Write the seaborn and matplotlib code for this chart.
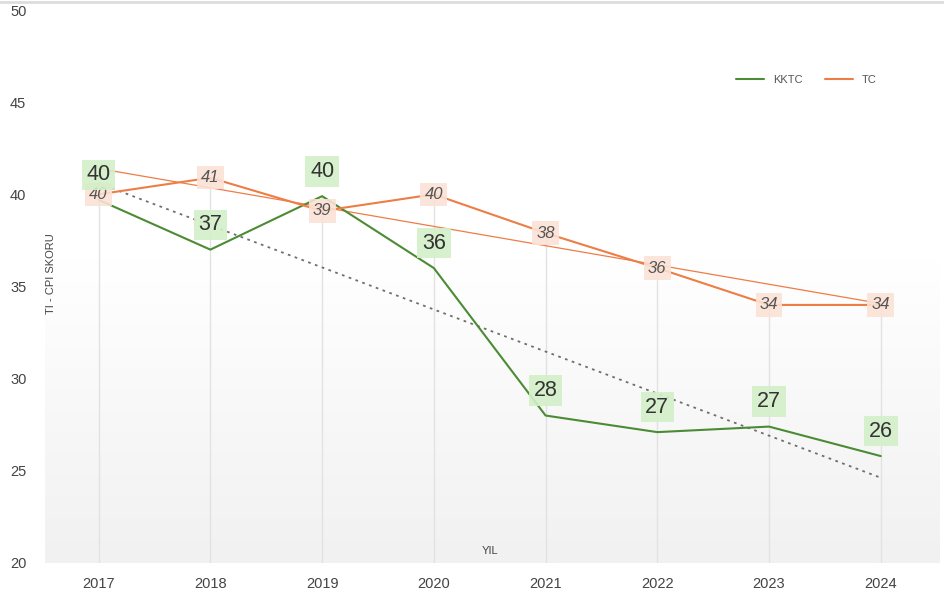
import matplotlib
matplotlib.use("Agg")
import matplotlib.pyplot as plt
import numpy as np
import pandas as pd
import seaborn as sns

years = [2017, 2018, 2019, 2020, 2021, 2022, 2023, 2024]
kktc = [39.7, 37.0, 39.9, 36.0, 28.0, 27.1, 27.4, 25.8]
tc = [40.0, 40.9, 39.1, 40.0, 37.9, 36.0, 34.0, 34.0]
kktc_labels = ["40", "37", "40", "36", "28", "27", "27", "26"]
tc_labels = ["40", "41", "39", "40", "38", "36", "34", "34"]

GREEN = "#4b8b34"
ORANGE = "#ee7d45"

sns.set_theme(style="white")
plt.rcParams["font.family"] = ["Liberation Sans", "DejaVu Sans"]

df = pd.DataFrame({"YIL": years, "KKTC": kktc, "TC": tc})
long_df = df.melt(id_vars="YIL", var_name="seri", value_name="skor")

fig = plt.figure(figsize=(9.44, 6.0), dpi=100)
ax = fig.add_axes([45 / 944, 37 / 600, 895 / 944, 553 / 600])

# soft grey gradient background, white at the top
grad = np.linspace(0, 1, 256).reshape(-1, 1)
grad = np.clip(grad / 0.55, 0, 1)
ax.imshow(grad, extent=[2016.52, 2024.53, 20, 50], aspect="auto",
          cmap=matplotlib.colors.LinearSegmentedColormap.from_list("bg", ["#f1f1f1", "#ffffff"]),
          origin="lower", zorder=0)

# drop lines from the highest point of each year
ax.vlines(years, 20, np.maximum(kktc, tc), color="#e2e2e2", lw=1.0, zorder=1)

sns.lineplot(data=long_df, x="YIL", y="skor", hue="seri",
             palette={"KKTC": GREEN, "TC": ORANGE}, lw=1.5, ax=ax, zorder=3)

# trend lines
xs = np.array(years, dtype=float)
k_fit = np.polyfit(xs, kktc, 1)
t_fit = np.polyfit(xs, tc, 1)
ax.plot(xs[[0, -1]], np.polyval(k_fit, xs[[0, -1]]), color="#6e6e6e", lw=1.3,
        ls=(0, (1.5, 2.5)), zorder=2)
ax.plot(xs[[0, -1]], np.polyval(t_fit, xs[[0, -1]]), color=ORANGE, lw=0.9, zorder=2)

# value labels
for x, v, lab in zip(years, tc, tc_labels):
    ax.text(x, v, lab, ha="center", va="center", fontsize=12, style="italic",
            color="#555555", zorder=5,
            bbox=dict(boxstyle="square,pad=0.25", fc="#fbe2d5", ec="none", alpha=0.9))
for x, v, lab in zip(years, kktc, kktc_labels):
    ax.text(x, v + 1.35, lab, ha="center", va="center", fontsize=15.5,
            color="#333333", zorder=6,
            bbox=dict(boxstyle="square,pad=0.22", fc="#d3efc8", ec="none", alpha=0.9))

ax.set_xlim(2016.52, 2024.53)
ax.set_ylim(20, 50)
ax.set_xticks(years)
ax.set_xticklabels([str(y) for y in years])
ax.set_yticks([20, 25, 30, 35, 40, 45, 50])
ax.tick_params(axis="x", labelsize=10.5, colors="#444444", pad=10, length=0)
ax.tick_params(axis="y", labelsize=10.5, colors="#444444", length=0, pad=0)
for lab in ax.get_yticklabels():
    lab.set_horizontalalignment("left")
    lab.set_x(-35 / 895)

ax.set_xlabel("")
ax.set_ylabel("")
ax.text(2016.52 + 6 / 111.7, 35.7, "TI - CPI SKORU", rotation=90, ha="center",
        va="center", fontsize=8, color="#444444")
ax.text(2020.5, 20.4, "YIL", ha="center", va="bottom", fontsize=8, color="#444444")

for s in ax.spines.values():
    s.set_visible(False)

leg = ax.legend(loc="upper right", bbox_to_anchor=(0.94, 0.9), ncol=2, frameon=False,
                fontsize=8, handlelength=2.5, columnspacing=2.0, title=None)
for t in leg.get_texts():
    t.set_color("#555555")

# thin grey frame line along the top edge
fig.add_artist(plt.Line2D([0, 1], [0.997, 0.997], color="#dddddd", lw=2,
                          transform=fig.transFigure))

fig.savefig("out.png", dpi=100, facecolor="white")
